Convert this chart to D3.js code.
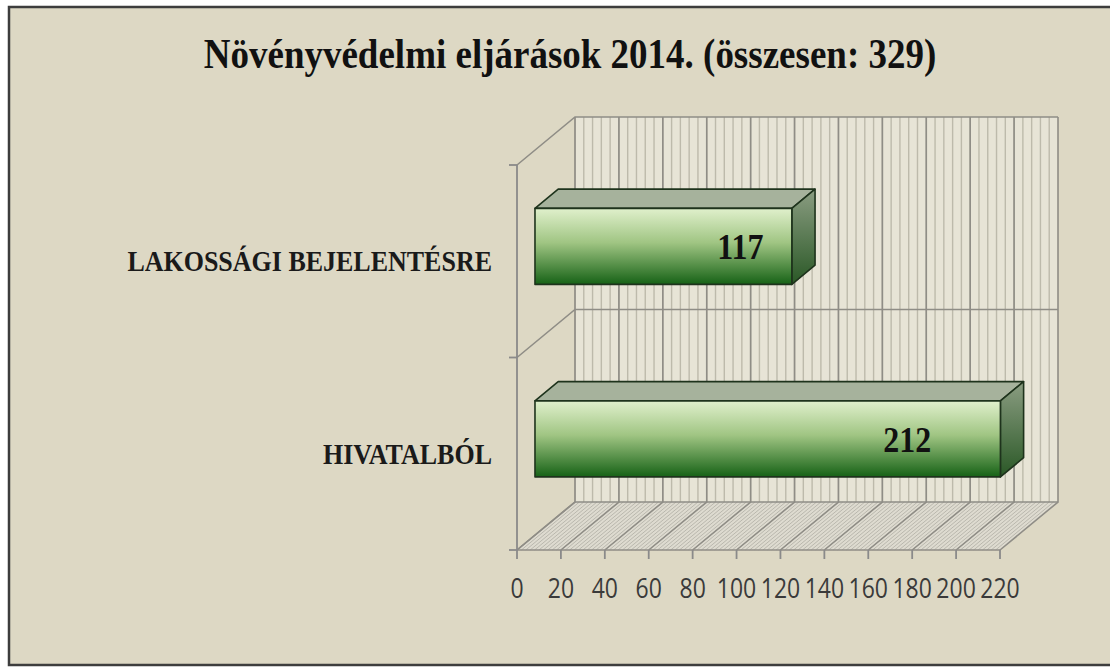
<!DOCTYPE html>
<html>
<head>
<meta charset="utf-8">
<script src="https://cdn.jsdelivr.net/npm/d3@7"></script>
<style>
  body { margin: 0; background: #fff; }
  svg { display: block; }
</style>
</head>
<body>
<div id="chart"></div>
<script>
// data
const title = "Növényvédelmi eljárások 2014. (összesen: 329)";
const categories = ["LAKOSSÁGI BEJELENTÉSRE", "HIVATALBÓL"];
const values = [117, 212];
const ticks = [0, 20, 40, 60, 80, 100, 120, 140, 160, 180, 200, 220];

const W = 1110, H = 668;
const SY = 1.15; // the original text looks a bit stretched vertically
const svg = d3.select("#chart").append("svg").attr("width", W).attr("height", H);

// gradients
const defs = svg.append("defs");
const gFront = defs.append("linearGradient").attr("id", "front").attr("x1", 0).attr("y1", 0).attr("x2", 0).attr("y2", 1);
gFront.append("stop").attr("offset", 0).attr("stop-color", "#e0f0cc");
gFront.append("stop").attr("offset", 0.45).attr("stop-color", "#a0c583");
gFront.append("stop").attr("offset", 1).attr("stop-color", "#166216");
const gSide = defs.append("linearGradient").attr("id", "side").attr("x1", 0).attr("y1", 0).attr("x2", 0).attr("y2", 1);
gSide.append("stop").attr("offset", 0).attr("stop-color", "#8b9d82");
gSide.append("stop").attr("offset", 1).attr("stop-color", "#2a5826");

// frame
svg.append("rect").attr("x", 9).attr("y", 7).attr("width", W).attr("height", 658)
  .attr("fill", "#ddd8c4").attr("stroke", "#3d3d3d").attr("stroke-width", 2.5);

// scales (front plane)
const x = d3.scaleLinear().domain([0, 220]).range([517, 1000]);
const y = d3.scaleBand().domain(categories).range([165, 550]);
const DX = 58, DY = -48;           // full depth offset
const p = (v, yy, t) => [x(v) + t * DX, yy + t * DY];
const line = d3.line();

const y0 = y.range()[0], y1 = y.range()[1];

// back wall
const wall = svg.append("g");
wall.append("path")
  .attr("d", line([p(0, y0, 1), p(220, y0, 1), p(220, y1, 1), p(0, y1, 1)]) + "Z")
  .attr("fill", "#e7e4d6");
d3.range(0, 220, 4).forEach(v => {
  wall.append("line")
    .attr("x1", p(v, y0, 1)[0]).attr("y1", p(v, y0, 1)[1])
    .attr("x2", p(v, y1, 1)[0]).attr("y2", p(v, y1, 1)[1])
    .attr("stroke", "#bdbaab").attr("stroke-width", 1.4);
});

// floor
const floor = svg.append("g");
floor.append("path")
  .attr("d", line([p(0, y1, 0), p(220, y1, 0), p(220, y1, 1), p(0, y1, 1)]) + "Z")
  .attr("fill", "#dedbd0");
d3.range(0, 220, 2).forEach(v => {
  floor.append("line")
    .attr("x1", p(v, y1, 0)[0]).attr("y1", p(v, y1, 0)[1])
    .attr("x2", p(v, y1, 1)[0]).attr("y2", p(v, y1, 1)[1])
    .attr("stroke", "#b9b7ad").attr("stroke-width", 1);
});

// major gridlines
const grid = svg.append("g").attr("stroke", "#8f8d86").attr("stroke-width", 1.6).attr("fill", "none");
ticks.forEach(v => {
  grid.append("path").attr("d", line([p(v, y1, 0), p(v, y1, 1), p(v, y0, 1)]));
});
// horizontal edges on wall and left side
const hLines = [y0, y(categories[1]), y1];
hLines.forEach(yy => {
  grid.append("path").attr("d", line([p(0, yy, 0), p(0, yy, 1), p(220, yy, 1)]));
});
grid.append("path").attr("d", line([p(0, y1, 0), p(220, y1, 0)]));

// axes
const ax = svg.append("g").attr("stroke", "#8a8a8a").attr("stroke-width", 1.8);
ax.append("line").attr("x1", x(0)).attr("x2", x(0)).attr("y1", y0).attr("y2", y1);
hLines.forEach(yy => ax.append("line").attr("x1", x(0) - 8).attr("x2", x(0)).attr("y1", yy).attr("y2", yy));
ticks.forEach(v => ax.append("line").attr("x1", x(v)).attr("x2", x(v)).attr("y1", y1).attr("y2", y1 + 9));

svg.append("g").selectAll("text").data(ticks).join("text")
  .attr("transform", d => `translate(${x(d)},598) scale(1,1.2)`)
  .attr("text-anchor", "middle")
  .attr("font-family", "'Open Sans', sans-serif")
  .attr("font-size", 23).attr("fill", "#3a3a3a")
  .text(d => d);

// category labels
svg.append("g").selectAll("text").data(categories).join("text")
  .attr("transform", d => `translate(492,${y(d) + y.bandwidth() / 2 + 10}) scale(1,${SY})`)
  .attr("text-anchor", "end")
  .attr("font-family", "'Liberation Serif', 'Times New Roman', serif")
  .attr("font-weight", "bold").attr("font-size", 26).attr("fill", "#1a1a1a")
  .text(d => d);

// bars
const tF = 0.31, tB = 0.71, hFrac = 0.395;
const bars = svg.append("g").selectAll("g").data(categories).join("g");
bars.each(function (c, i) {
  const g = d3.select(this);
  const v = values[i];
  const yc = y(c) + y.bandwidth() / 2;
  const bh = y.bandwidth() * hFrac;
  const top = yc - bh / 2, bot = yc + bh / 2;
  const face = (pts, fill) => g.append("path").attr("d", line(pts) + "Z").attr("fill", fill)
    .attr("stroke", "#1e331c").attr("stroke-width", 1.6).attr("stroke-linejoin", "round");
  face([p(0, top, tF), p(v, top, tF), p(v, top, tB), p(0, top, tB)], "#a6b29c");
  face([p(v, top, tF), p(v, top, tB), p(v, bot, tB), p(v, bot, tF)], "url(#side)");
  face([p(0, top, tF), p(v, top, tF), p(v, bot, tF), p(0, bot, tF)], "url(#front)");
  const lx = p(v * 0.8, yc, tF);
  g.append("text")
    .attr("transform", `translate(${lx[0]},${lx[1] + 13}) scale(1,${SY})`)
    .attr("text-anchor", "middle")
    .attr("font-family", "'Liberation Serif', 'Times New Roman', serif")
    .attr("font-weight", "bold").attr("font-size", 32).attr("fill", "#111")
    .text(v);
});

// title
svg.append("text")
  .attr("transform", `translate(570,68) scale(1,${SY})`)
  .attr("text-anchor", "middle")
  .attr("font-family", "'Liberation Serif', 'Times New Roman', serif")
  .attr("font-weight", "bold").attr("font-size", 37).attr("fill", "#111")
  .text(title);
</script>
</body>
</html>
